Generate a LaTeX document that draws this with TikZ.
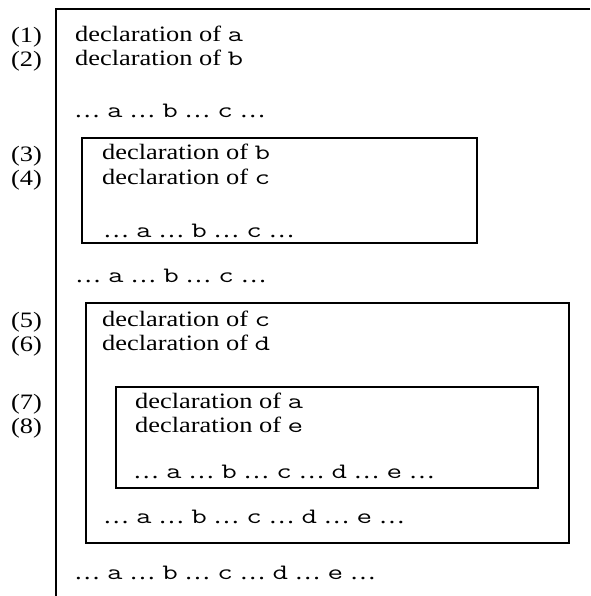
\documentclass[tikz,border=0pt]{standalone}
\usepackage{fontspec}
\setmainfont{Liberation Serif}[FakeStretch=1.2]
\usepackage{graphicx}
\newcommand\cv[1]{\scalebox{1.37}[1]{\ttfamily #1}}
\begin{document}
\begin{tikzpicture}[x=1pt,y=-1pt,
  txt/.style={anchor=base west, inner sep=0pt, font=\fontsize{22}{24}\selectfont},
  frame/.style={draw=black, line width=1.6pt}]
\useasboundingbox (0,0) rectangle (590,596);
% frames
\coordinate (otr) at (590,9);
\coordinate (otl) at (56,9);
\coordinate (obl) at (56,596);
\draw[frame] (otr) -- (otl) -- (obl);
\coordinate (b1a) at (82,138); \coordinate (b1b) at (477,243);
\draw[frame] (b1a) rectangle (b1b);
\coordinate (b2a) at (86,303); \coordinate (b2b) at (569,543);
\draw[frame] (b2a) rectangle (b2b);
\coordinate (b3a) at (116,387); \coordinate (b3b) at (538,488);
\draw[frame] (b3a) rectangle (b3b);
% labels
\node[txt] (n1) at (11,43) {(1)};
\node[txt] (n2) at (11,67) {(2)};
\node[txt] (n3) at (11,161) {(3)};
\node[txt] (n4) at (11,185) {(4)};
\node[txt] (n5) at (11,327) {(5)};
\node[txt] (n6) at (11,351) {(6)};
\node[txt] (n7) at (11,409) {(7)};
\node[txt] (n8) at (11,433) {(8)};
% texts
\node[txt] (t1) at (75,42) {declaration of \cv{a}};
\node[txt] (t2) at (75,66) {declaration of \cv{b}};
\node[txt] (t3) at (74,118) {… \cv{a} … \cv{b} … \cv{c} …};
\node[txt] (t4) at (102,160) {declaration of \cv{b}};
\node[txt] (t5) at (102,184) {declaration of \cv{c}};
\node[txt] (t6) at (103,237) {… \cv{a} … \cv{b} … \cv{c} …};
\node[txt] (t7) at (75,282) {… \cv{a} … \cv{b} … \cv{c} …};
\node[txt] (t8) at (102,326) {declaration of \cv{c}};
\node[txt] (t9) at (102,350) {declaration of \cv{d}};
\node[txt] (t10) at (135,408) {declaration of \cv{a}};
\node[txt] (t11) at (135,432) {declaration of \cv{e}};
\node[txt] (t12) at (133,478) {… \cv{a} … \cv{b} … \cv{c} … \cv{d} … \cv{e} …};
\node[txt] (t13) at (103,523) {… \cv{a} … \cv{b} … \cv{c} … \cv{d} … \cv{e} …};
\node[txt] (t14) at (74,579) {… \cv{a} … \cv{b} … \cv{c} … \cv{d} … \cv{e} …};
\end{tikzpicture}
\end{document}
